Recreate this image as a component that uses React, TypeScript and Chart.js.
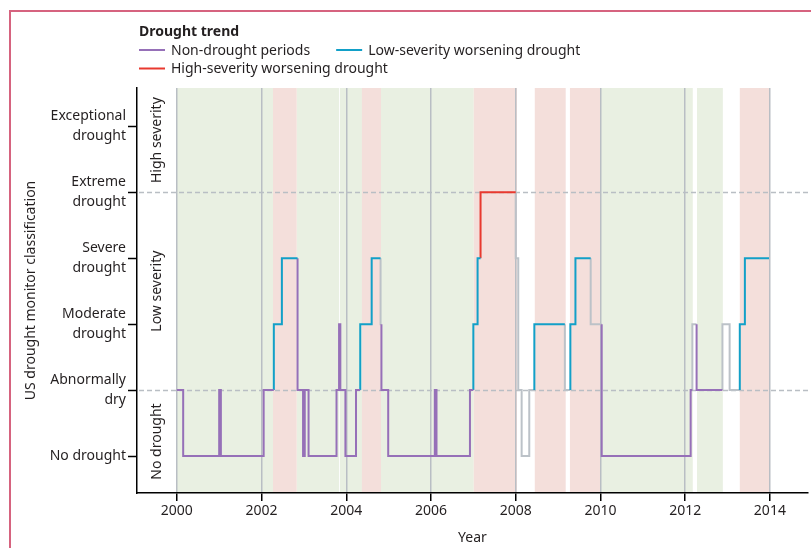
import React, { useEffect, useRef } from 'react';
import { Chart, registerables } from 'chart.js';

Chart.register(...registerables);

const FONT = "'Noto Sans', sans-serif";
const INK = '#231f20';

// ---- axes ----
const yearTicks = [2000, 2002, 2004, 2006, 2008, 2010, 2012, 2014];
const yearMin = 1999.06;
const yearMax = 2014.9;
const levelTicks = [0, 1, 2, 3, 4, 5];
const levelLabels = [
  ['No drought'],
  ['Abnormally', 'dry'],
  ['Moderate', 'drought'],
  ['Severe', 'drought'],
  ['Extreme', 'drought'],
  ['Exceptional', 'drought'],
];
const levelMin = -0.56;
const levelMax = 5.58;

// ---- severity groups ----
const severityNames = ['No drought', 'Low severity', 'High severity'];
const severityLow = [levelMin, 1, 4];
const severityHigh = [1, 4, levelMax];
const severityThresholds = [1, 4];

// ---- shaded periods (years) ----
const greenStarts = [2000.0, 2002.83, 2003.85, 2004.82, 2010.0, 2012.28];
const greenEnds = [2002.27, 2003.83, 2004.37, 2007.01, 2012.18, 2012.89];
const pinkStarts = [2002.27, 2004.37, 2007.01, 2008.45, 2009.28, 2013.29];
const pinkEnds = [2002.83, 2004.82, 2008.03, 2009.18, 2009.99, 2013.98];

// ---- drought classification series (value holds from change year to next) ----
const changeYears = [
  2000.0, 2000.15, 2001.0, 2001.04, 2002.05, 2002.29, 2002.48, 2002.85, 2002.98, 2003.02,
  2003.11, 2003.77, 2003.83, 2003.86, 2003.98, 2004.23, 2004.33, 2004.6, 2004.81, 2004.83,
  2004.99, 2006.09, 2006.13, 2006.92, 2007.0, 2007.1, 2007.17, 2008.0, 2008.06, 2008.14,
  2008.32, 2008.44, 2009.16, 2009.29, 2009.41, 2009.77, 2010.03, 2012.13, 2012.17, 2012.27,
  2012.88, 2013.05, 2013.29, 2013.41,
];
const endYear = 2013.98;
const levels = [
  1, 0, 1, 0, 1, 2, 3, 1, 0, 1,
  0, 1, 2, 1, 0, 1, 2, 3, 2, 1,
  0, 1, 0, 1, 2, 3, 4, 3, 1, 0,
  1, 2, 1, 2, 3, 2, 0, 1, 2, 1,
  2, 1, 2, 3,
];
// N = non-drought, L = low-severity worsening, H = high-severity worsening, O = other
const trends = [
  'N', 'N', 'N', 'N', 'N', 'L', 'L', 'N', 'N', 'N',
  'N', 'N', 'N', 'N', 'N', 'N', 'L', 'L', 'O', 'N',
  'N', 'N', 'N', 'N', 'L', 'L', 'H', 'O', 'O', 'O',
  'O', 'L', 'O', 'L', 'L', 'O', 'N', 'N', 'O', 'N',
  'O', 'O', 'L', 'L',
];

const trendKeys = ['N', 'L', 'H', 'O'];
const trendNames = ['Non-drought periods', 'Low-severity worsening drought', 'High-severity worsening drought', ''];
const trendColors = ['#9670b8', '#12a0c8', '#e8392f', '#bcc2c8'];
const legendTitle = 'Drought trend';

const GREEN = '#e9f0e2';
const PINK = '#f4dfdb';
const GRID = '#b9bec4';

function buildRuns() {
  const runs: { trend: string; pts: { x: number; y: number }[] }[] = [];
  let i = 0;
  while (i < levels.length) {
    let j = i;
    while (j + 1 < levels.length && trends[j + 1] === trends[i]) j++;
    const pts: { x: number; y: number }[] = [];
    if (i > 0) pts.push({ x: changeYears[i], y: levels[i - 1] });
    for (let k = i; k <= j; k++) pts.push({ x: changeYears[k], y: levels[k] });
    const endX = j + 1 < changeYears.length ? changeYears[j + 1] : endYear;
    pts.push({ x: endX, y: levels[j] });
    runs.push({ trend: trends[i], pts });
    i = j + 1;
  }
  return runs;
}

const bandsPlugin = {
  id: 'bands',
  beforeDraw(chart: any) {
    const { ctx, chartArea, scales } = chart;
    const x = scales.x;
    ctx.save();
    const fillBands = (starts: number[], ends: number[], color: string) => {
      ctx.fillStyle = color;
      for (let i = 0; i < starts.length; i++) {
        const a = x.getPixelForValue(starts[i]);
        const b = x.getPixelForValue(ends[i]);
        ctx.fillRect(a, chartArea.top, b - a, chartArea.bottom - chartArea.top);
      }
    };
    fillBands(greenStarts, greenEnds, GREEN);
    fillBands(pinkStarts, pinkEnds, PINK);
    ctx.restore();
  },
};

const overlayPlugin = {
  id: 'overlay',
  beforeDatasetsDraw(chart: any) {
    const { ctx, chartArea, scales } = chart;
    const x = scales.x;
    const y = scales.y;
    ctx.save();
    // dashed thresholds
    ctx.strokeStyle = GRID;
    ctx.lineWidth = 1.5;
    ctx.setLineDash([5, 3]);
    for (const t of severityThresholds) {
      const py = Math.round(y.getPixelForValue(t)) + 0.5;
      ctx.beginPath();
      ctx.moveTo(chartArea.left + 2, py);
      ctx.lineTo(chartArea.right, py);
      ctx.stroke();
    }
    ctx.setLineDash([]);
    // severity group labels
    ctx.fillStyle = INK;
    ctx.font = `14px ${FONT}`;
    ctx.textAlign = 'center';
    ctx.textBaseline = 'middle';
    const cx = (chartArea.left + x.getPixelForValue(yearTicks[0])) / 2;
    for (let i = 0; i < severityNames.length; i++) {
      const cy = (y.getPixelForValue(severityLow[i]) + y.getPixelForValue(severityHigh[i])) / 2;
      ctx.save();
      ctx.translate(cx, cy);
      ctx.rotate(-Math.PI / 2);
      ctx.fillText(severityNames[i], 0, 0);
      ctx.restore();
    }
    ctx.restore();
  },
  afterDraw(chart: any) {
    const { ctx } = chart;
    ctx.save();
    ctx.fillStyle = INK;
    ctx.textAlign = 'left';
    ctx.textBaseline = 'alphabetic';
    ctx.font = `bold 14px ${FONT}`;
    ctx.fillText(legendTitle, 139, 36);
    ctx.font = `14px ${FONT}`;
    const drawItem = (idx: number, x0: number, ly: number) => {
      ctx.strokeStyle = trendColors[idx];
      ctx.lineWidth = 2;
      ctx.beginPath();
      ctx.moveTo(x0, ly);
      ctx.lineTo(x0 + 26, ly);
      ctx.stroke();
      ctx.fillText(trendNames[idx], x0 + 32, ly + 4.5);
      return x0 + 32 + ctx.measureText(trendNames[idx]).width;
    };
    const end1 = drawItem(0, 139, 50);
    drawItem(1, end1 + 26, 50);
    drawItem(2, 139, 68.5);
    ctx.restore();
  },
};

export default function App() {
  const ref = useRef<HTMLCanvasElement | null>(null);
  useEffect(() => {
    if (!ref.current) return;
    const runs = buildRuns();
    const datasets = runs.map((r) => {
      const idx = trendKeys.indexOf(r.trend);
      return {
        label: trendNames[idx],
        data: r.pts,
        borderColor: trendColors[idx],
        backgroundColor: trendColors[idx],
        borderWidth: 2,
        pointRadius: 0,
        pointHoverRadius: 0,
        stepped: 'before' as const,
        fill: false,
        order: idx === 3 ? 2 : 1,
      };
    });
    const chart = new Chart(ref.current, {
      type: 'line',
      data: { datasets },
      plugins: [bandsPlugin, overlayPlugin],
      options: {
        animation: false,
        responsive: false,
        devicePixelRatio: 1,
        events: [],
        layout: { padding: { top: 88, right: 3, left: 8, bottom: 0 } },
        plugins: { legend: { display: false }, tooltip: { enabled: false } },
        scales: {
          x: {
            type: 'linear',
            min: yearMin,
            max: yearMax,
            afterBuildTicks: (s: any) => {
              s.ticks = yearTicks.map((v) => ({ value: v }));
            },
            afterFit: (s: any) => {
              s.height = 55;
            },
            ticks: {
              autoSkip: false,
              maxRotation: 0,
              padding: 2,
              color: INK,
              font: { family: FONT, size: 14 },
              callback: (v: any) => String(v),
            },
            grid: {
              color: GRID,
              lineWidth: 1.5,
              tickColor: '#000',
              tickLength: 8,
              tickWidth: 1.5,
            },
            border: { color: '#000', width: 1.5 },
            title: {
              display: true,
              text: 'Year',
              color: INK,
              font: { family: FONT, size: 14 },
              padding: { top: 0, bottom: 2 },
            },
          },
          y: {
            type: 'linear',
            min: levelMin,
            max: levelMax,
            afterBuildTicks: (s: any) => {
              s.ticks = levelTicks.map((v) => ({ value: v }));
            },
            afterFit: (s: any) => {
              s.width = 129;
            },
            ticks: {
              padding: 2,
              color: INK,
              font: { family: FONT, size: 14, lineHeight: 1.4 },
              callback: (v: any) => levelLabels[levelTicks.indexOf(Number(v))] as any,
            },
            grid: {
              drawOnChartArea: false,
              tickColor: '#000',
              tickLength: 9,
              tickWidth: 1.5,
            },
            border: { color: '#000', width: 1.5 },
            title: {
              display: true,
              text: 'US drought monitor classification',
              color: INK,
              font: { family: FONT, size: 14 },
              padding: { top: 15, bottom: 0 },
            },
          },
        },
      } as any,
    });
    return () => chart.destroy();
  }, []);

  return (
    <div style={{ position: 'fixed', left: 0, top: 0, width: 811, height: 548, background: '#fff' }}>
      <div
        style={{
          position: 'absolute',
          left: 9,
          top: 10,
          width: 802,
          height: 538,
          boxSizing: 'border-box',
          borderTop: '2px solid #d6637f',
          borderLeft: '2px solid #d6637f',
        }}
      />
      <canvas ref={ref} width={811} height={548} style={{ position: 'absolute', left: 0, top: 0, display: 'block' }} />
    </div>
  );
}
